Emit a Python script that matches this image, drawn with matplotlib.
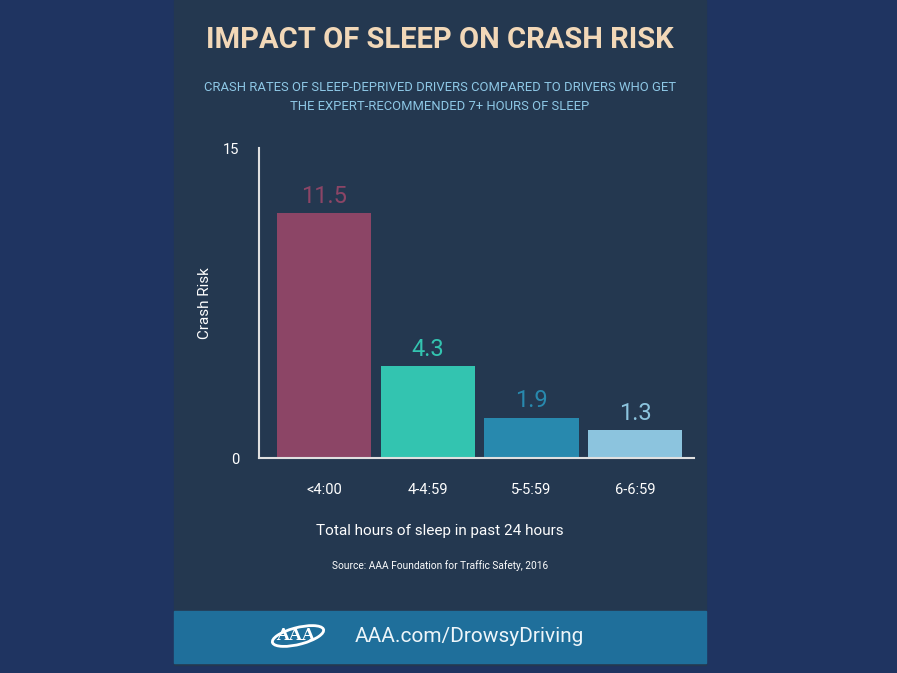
import matplotlib.pyplot as plt
from matplotlib.patches import Rectangle, Ellipse

categories = ['<4:00', '4-4:59', '5-5:59', '6-6:59']
crash_risk = [11.5, 4.3, 1.9, 1.3]
bar_colors = ['#8c4566', '#33c4b0', '#2889ae', '#8cc4de']
ytick_vals = [0, 14.55]
ytick_labels = ['0', '15']

W, H = 897, 673
fig = plt.figure(figsize=(W / 100, H / 100), dpi=100)
fig.patch.set_facecolor('#1f3461')

def fx(px):
    return px / W

def fy(py):
    return 1 - py / H

# panel and footer band
fig.patches.append(Rectangle((fx(174), fy(665)), fx(706) - fx(174), fy(0) - fy(665),
                             transform=fig.transFigure, color='#243850', zorder=0))
fig.patches.append(Rectangle((fx(174), fy(663)), fx(706) - fx(174), fy(611) - fy(663),
                             transform=fig.transFigure, color='#1f6f9b', zorder=1))

font = 'Roboto'
fig.text(fx(440), fy(40), 'IMPACT OF SLEEP ON CRASH RISK', ha='center', va='center',
         fontsize=21, fontweight='bold', color='#f2d8b8', family=font)
fig.text(fx(440), fy(97), 'CRASH RATES OF SLEEP-DEPRIVED DRIVERS COMPARED TO DRIVERS WHO GET\n'
         'THE EXPERT-RECOMMENDED 7+ HOURS OF SLEEP', ha='center', va='center',
         fontsize=9.4, color='#8ec8e6', family=font, linespacing=1.6)

ax = fig.add_axes([fx(259), fy(458), fx(694) - fx(259), fy(148) - fy(458)])
ax.set_zorder(5)
ax.set_facecolor('none')
x = list(range(len(categories)))
ax.bar(x, crash_risk, width=0.91, color=bar_colors)
for xi, v, c in zip(x, crash_risk, bar_colors):
    ax.text(xi, v + 0.25, f'{v}', ha='center', va='bottom', fontsize=17, color=c, family=font)
ax.set_xlim(-0.63, 3.57)
ax.set_ylim(0, 14.55)
ax.set_yticks(ytick_vals)
ax.set_yticklabels(ytick_labels)
ax.set_xticks(x)
ax.set_xticklabels(categories)
ax.tick_params(axis='both', length=0, colors='white', labelsize=10.5)
ax.tick_params(axis='y', pad=14)
ax.tick_params(axis='x', pad=18)
for lab in ax.get_xticklabels() + ax.get_yticklabels():
    lab.set_family(font)
for s in ['top', 'right']:
    ax.spines[s].set_visible(False)
for s in ['left', 'bottom']:
    ax.spines[s].set_color('#e0e0e0')
    ax.spines[s].set_linewidth(1.5)
ax.set_ylabel('Crash Risk', color='white', fontsize=11, family=font, labelpad=8)

fig.text(fx(440), fy(531), 'Total hours of sleep in past 24 hours', ha='center', va='center',
         fontsize=11, color='white', family=font)
fig.text(fx(440), fy(566), 'Source: AAA Foundation for Traffic Safety, 2016', ha='center', va='center',
         fontsize=7.3, color='white', family=font)

# footer logo + url
fig.text(fx(296), fy(636), 'AAA', ha='center', va='center', fontsize=12, fontweight='bold',
         color='white', family='DejaVu Serif', zorder=3)
fig.patches.append(Ellipse((fx(298), fy(636)), fx(54), fx(22), angle=20, transform=fig.transFigure,
                           fill=False, ec='white', lw=2, zorder=2))
fig.text(fx(469), fy(636), 'AAA.com/DrowsyDriving', ha='center', va='center', fontsize=15,
         color='#eef6fa', family=font)

fig.savefig('out.png', dpi=100, facecolor=fig.get_facecolor())
